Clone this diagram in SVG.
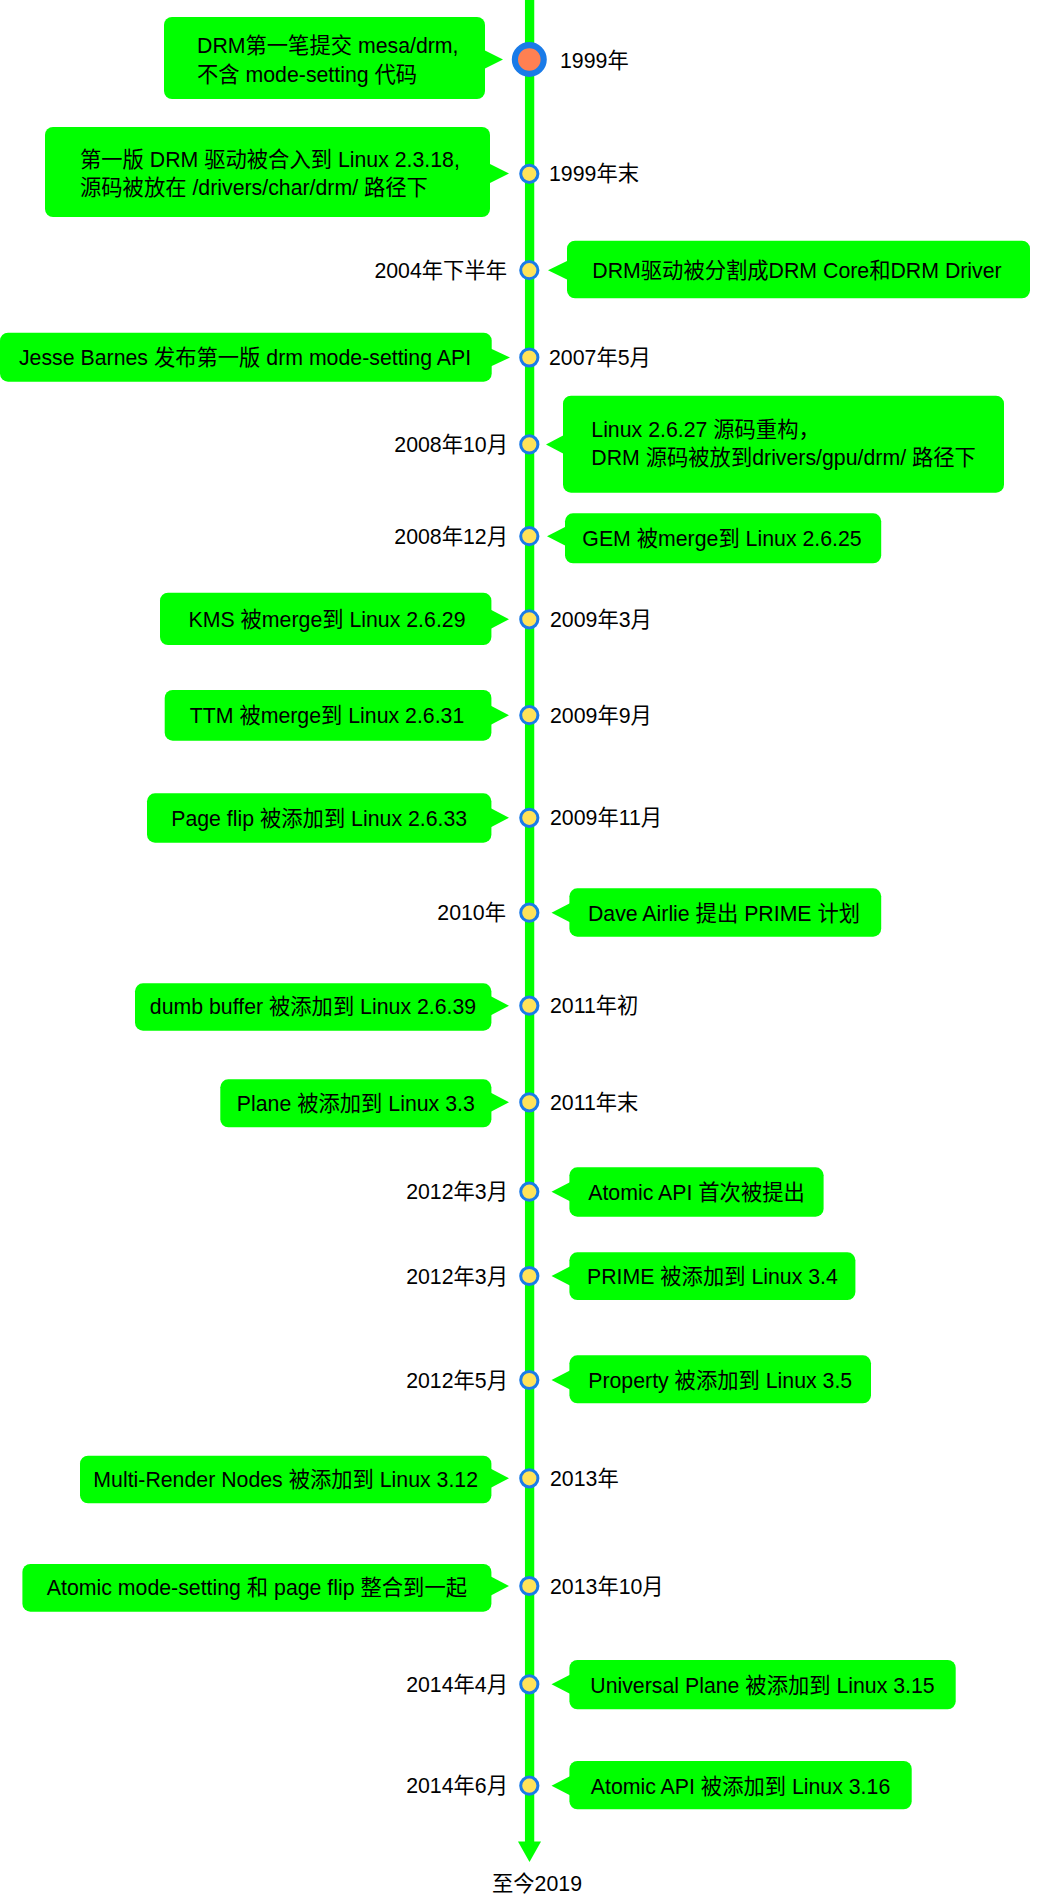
<svg xmlns="http://www.w3.org/2000/svg" width="1063" height="1894" viewBox="0 0 1063 1894">
<style>
.box{fill:#00ff00}
.t{font-family:"Liberation Sans","Noto Sans CJK SC",sans-serif;font-size:21.3px;fill:#000}
.c{text-anchor:middle}
.e{text-anchor:end}
.dot{fill:#ffe35a;stroke:#1a7be8;stroke-width:3}
.big{fill:#ff8052;stroke:#1a7be8;stroke-width:6.2}
.axis{stroke:#00ff00;stroke-width:9.3;fill:none}
.head{fill:#00ff00}
</style>
<rect width="1063" height="1894" fill="#ffffff"/>
<g id="connectors">
<line class="axis" x1="529.6" y1="0" x2="529.6" y2="1843"/>
<polygon class="head" points="518,1841.5 541,1841.5 529.5,1862"/>
</g>
<g id="n1">
<rect class="box" x="164" y="17" width="321" height="82" rx="8"/>
<polygon class="box" points="484,50 503,59.5 484,69"/>
<text class="t" x="197" y="53.3">DRM第一笔提交 mesa/drm,</text>
<text class="t" x="197" y="81.7">不含 mode-setting 代码</text>
<circle class="big" cx="529.3" cy="59.5" r="14.4"/>
<text class="t" x="560" y="67.5">1999年</text>
</g>
<g id="n2">
<rect class="box" x="45" y="127" width="445" height="90" rx="8"/>
<polygon class="box" points="489,163.5 509,173.5 489,183.5"/>
<text class="t" x="80" y="166.7">第一版 DRM 驱动被合入到 Linux 2.3.18,</text>
<text class="t" x="80" y="195">源码被放在 /drivers/char/drm/ 路径下</text>
<circle class="dot" cx="529.3" cy="173.8" r="8.6"/>
<text class="t" x="549" y="181.3">1999年末</text>
</g>
<g id="n3">
<rect class="box" x="567" y="240.7" width="463" height="57.6" rx="8"/>
<polygon class="box" points="568,260.5 548,270.2 568,280"/>
<text class="t c" x="797" y="278.3">DRM驱动被分割成DRM Core和DRM Driver</text>
<circle class="dot" cx="529.3" cy="270.2" r="8.6"/>
<text class="t e" x="507" y="277.7">2004年下半年</text>
</g>
<g id="n4">
<rect class="box" x="0" y="332.7" width="491.7" height="49" rx="8"/>
<polygon class="box" points="490.7,348.5 510,357.4 490.7,366.5"/>
<text class="t c" x="245" y="365">Jesse Barnes 发布第一版 drm mode-setting API</text>
<circle class="dot" cx="529.3" cy="357.5" r="8.6"/>
<text class="t" x="549" y="365">2007年5月</text>
</g>
<g id="n5">
<rect class="box" x="563" y="395.7" width="441" height="97" rx="8"/>
<polygon class="box" points="564,435 546,444.5 564,454"/>
<text class="t" x="591.3" y="437.3">Linux 2.6.27 源码重构，</text>
<text class="t" x="591.3" y="465.3">DRM 源码被放到drivers/gpu/drm/ 路径下</text>
<circle class="dot" cx="529.3" cy="444.4" r="8.6"/>
<text class="t e" x="508" y="452">2008年10月</text>
</g>
<g id="n6">
<rect class="box" x="565" y="513.3" width="316.2" height="50" rx="8"/>
<polygon class="box" points="566,526.5 547,536.2 566,546"/>
<text class="t c" x="722" y="546">GEM 被merge到 Linux 2.6.25</text>
<circle class="dot" cx="529.3" cy="536.2" r="8.6"/>
<text class="t e" x="508" y="543.7">2008年12月</text>
</g>
<g id="n7">
<rect class="box" x="160" y="592.7" width="331.4" height="52.3" rx="8"/>
<polygon class="box" points="490.4,609.5 509,619.3 490.4,629"/>
<text class="t c" x="327" y="627">KMS 被merge到 Linux 2.6.29</text>
<circle class="dot" cx="529.3" cy="619.3" r="8.6"/>
<text class="t" x="550" y="626.8">2009年3月</text>
</g>
<g id="n8">
<rect class="box" x="164.7" y="690" width="326.7" height="50.7" rx="8"/>
<polygon class="box" points="490.4,705.5 509,715.2 490.4,725"/>
<text class="t c" x="327" y="723">TTM 被merge到 Linux 2.6.31</text>
<circle class="dot" cx="529.3" cy="715.2" r="8.6"/>
<text class="t" x="550" y="722.7">2009年9月</text>
</g>
<g id="n9">
<rect class="box" x="147" y="793.3" width="344.4" height="49.4" rx="8"/>
<polygon class="box" points="490.4,808 509,817.8 490.4,827.5"/>
<text class="t c" x="319.2" y="825.8">Page flip 被添加到 Linux 2.6.33</text>
<circle class="dot" cx="529.3" cy="817.8" r="8.6"/>
<text class="t" x="550" y="825.3">2009年11月</text>
</g>
<g id="n10">
<rect class="box" x="569.4" y="888.3" width="311.8" height="48.4" rx="8"/>
<polygon class="box" points="570.4,903 551.5,912.7 570.4,922.5"/>
<text class="t c" x="724" y="920.5">Dave Airlie 提出 PRIME 计划</text>
<circle class="dot" cx="529.3" cy="912.7" r="8.6"/>
<text class="t e" x="506" y="920.2">2010年</text>
</g>
<g id="n11">
<rect class="box" x="135" y="983.3" width="356.4" height="47.4" rx="8"/>
<polygon class="box" points="490.4,996 509,1005.7 490.4,1015.5"/>
<text class="t c" x="313" y="1013.5">dumb buffer 被添加到 Linux 2.6.39</text>
<circle class="dot" cx="529.3" cy="1005.7" r="8.6"/>
<text class="t" x="550" y="1013.2">2011年初</text>
</g>
<g id="n12">
<rect class="box" x="220.3" y="1079.3" width="271.1" height="48" rx="8"/>
<polygon class="box" points="490.4,1092.5 509,1102.3 490.4,1112"/>
<text class="t c" x="355.8" y="1110.5">Plane 被添加到 Linux 3.3</text>
<circle class="dot" cx="529.3" cy="1102.3" r="8.6"/>
<text class="t" x="550" y="1109.8">2011年末</text>
</g>
<g id="n13">
<rect class="box" x="569.4" y="1167.3" width="254.2" height="49.4" rx="8"/>
<polygon class="box" points="570.4,1182 551.5,1191.7 570.4,1201.5"/>
<text class="t c" x="696.5" y="1199.8">Atomic API 首次被提出</text>
<circle class="dot" cx="529.3" cy="1191.7" r="8.6"/>
<text class="t e" x="508" y="1199.2">2012年3月</text>
</g>
<g id="n14">
<rect class="box" x="569.4" y="1252.3" width="286" height="47.7" rx="8"/>
<polygon class="box" points="570.4,1266.3 551.5,1276 570.4,1285.8"/>
<text class="t c" x="712.4" y="1284">PRIME 被添加到 Linux 3.4</text>
<circle class="dot" cx="529.3" cy="1276" r="8.6"/>
<text class="t e" x="508" y="1283.5">2012年3月</text>
</g>
<g id="n15">
<rect class="box" x="569.4" y="1355.3" width="301.6" height="48" rx="8"/>
<polygon class="box" points="570.4,1370.3 551.5,1380 570.4,1389.8"/>
<text class="t c" x="720.2" y="1387.5">Property 被添加到 Linux 3.5</text>
<circle class="dot" cx="529.3" cy="1380" r="8.6"/>
<text class="t e" x="508" y="1387.5">2012年5月</text>
</g>
<g id="n16">
<rect class="box" x="80" y="1455.7" width="411.4" height="47.6" rx="8"/>
<polygon class="box" points="490.4,1468.5 509,1478.3 490.4,1488"/>
<text class="t c" x="285.7" y="1486.5">Multi-Render Nodes 被添加到 Linux 3.12</text>
<circle class="dot" cx="529.3" cy="1478.3" r="8.6"/>
<text class="t" x="550" y="1485.8">2013年</text>
</g>
<g id="n17">
<rect class="box" x="22.4" y="1564" width="469" height="47.7" rx="8"/>
<polygon class="box" points="490.4,1576.3 509,1586 490.4,1595.8"/>
<text class="t c" x="256.9" y="1594.8">Atomic mode-setting 和 page flip 整合到一起</text>
<circle class="dot" cx="529.3" cy="1586" r="8.6"/>
<text class="t" x="550" y="1593.5">2013年10月</text>
</g>
<g id="n18">
<rect class="box" x="569.4" y="1660" width="386.3" height="49.3" rx="8"/>
<polygon class="box" points="570.4,1674.6 551.5,1684.3 570.4,1694"/>
<text class="t c" x="762.5" y="1692.5">Universal Plane 被添加到 Linux 3.15</text>
<circle class="dot" cx="529.3" cy="1684.3" r="8.6"/>
<text class="t e" x="508" y="1691.8">2014年4月</text>
</g>
<g id="n19">
<rect class="box" x="569.4" y="1761" width="342.3" height="48.3" rx="8"/>
<polygon class="box" points="570.4,1776 551.5,1785.7 570.4,1795.4"/>
<text class="t c" x="740.5" y="1793.5">Atomic API 被添加到 Linux 3.16</text>
<circle class="dot" cx="529.3" cy="1785.7" r="8.6"/>
<text class="t e" x="508" y="1793.2">2014年6月</text>
</g>
<g id="end">
<text class="t" x="492" y="1891">至今2019</text>
</g>
</svg>
